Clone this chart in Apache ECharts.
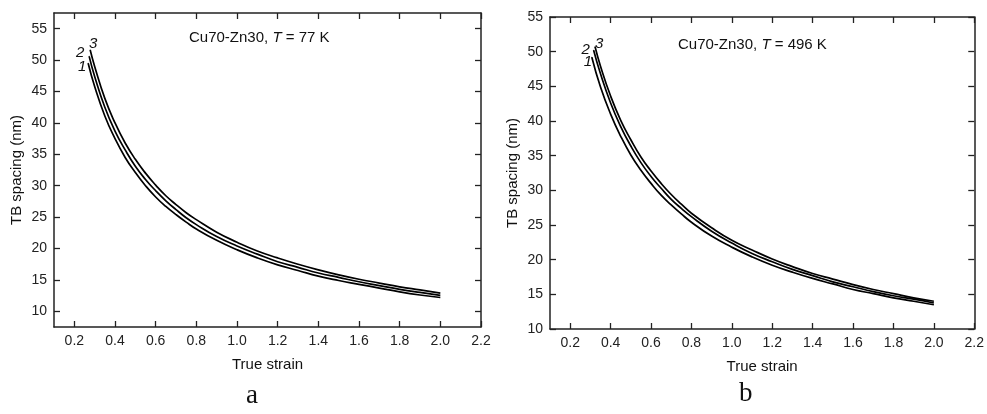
<!DOCTYPE html>
<html><head><meta charset="utf-8">
<script src="https://cdn.jsdelivr.net/npm/echarts@6/dist/echarts.min.js"></script>
<style>html,body{margin:0;padding:0;background:#fff}#c{width:987px;height:414px}</style>
</head><body><div id="c"></div>
<script>
// ---- tick labels ----
const xTicks = [0.2,0.4,0.6,0.8,1.0,1.2,1.4,1.6,1.8,2.0,2.2];
const yTicks = [10,15,20,25,30,35,40,45,50,55];

// ---- common strain grid (after the first point of each curve) ----
const strainGrid = [0.35,0.4,0.45,0.5,0.55,0.6,0.65,0.7,0.75,0.8,0.9,1.0,1.1,1.2,1.3,1.4,1.5,1.6,1.7,1.8,1.9,2.0];

// ---- panel a: T = 77 K ----
const aStrain1 = [0.268,0.3].concat(strainGrid);
const aTB1 = [49.5,45.8,41.1,37.5,34.5,32.1,30.0,28.2,26.7,25.4,24.2,23.1,21.3,19.8,18.5,17.4,16.5,15.6,14.9,14.3,13.7,13.1,12.6,12.2];
const aStrain2 = [0.273,0.3].concat(strainGrid);
const aTB2 = [50.6,47.4,42.5,38.7,35.7,33.1,31.0,29.2,27.6,26.2,24.9,23.8,21.9,20.4,19.1,17.9,17.0,16.1,15.4,14.7,14.1,13.5,13.0,12.55];
const aStrain3 = [0.278,0.3].concat(strainGrid);
const aTB3 = [51.6,49.0,43.9,40.0,36.8,34.2,32.0,30.1,28.4,27.0,25.7,24.6,22.6,21.0,19.6,18.5,17.5,16.6,15.8,15.1,14.5,13.9,13.4,12.9];

// ---- panel b: T = 496 K ----
const bStrain1 = [0.307].concat(strainGrid);
const bTB1 = [49.2,44.9,41.0,37.8,35.1,32.9,31.0,29.3,27.9,26.6,25.4,23.4,21.8,20.4,19.2,18.2,17.3,16.5,15.7,15.1,14.5,14.0,13.5];
const bStrain2 = [0.316].concat(strainGrid);
const bTB2 = [50.2,46.8,42.6,39.2,36.4,34.0,32.0,30.3,28.7,27.4,26.2,24.1,22.4,20.9,19.7,18.6,17.7,16.8,16.1,15.4,14.8,14.3,13.75];
const bStrain3 = [0.323].concat(strainGrid);
const bTB3 = [50.7,47.9,43.6,40.1,37.3,34.8,32.8,31.0,29.4,28.0,26.7,24.6,22.8,21.4,20.1,19.0,18.0,17.2,16.4,15.7,15.1,14.5,14.0];

const curveNames = ['1','2','3'];
const titleA = ['Cu70-Zn30, ','T',' = 77 K'];
const titleB = ['Cu70-Zn30, ','T',' = 496 K'];

const FONT = 'Liberation Sans, Arial, sans-serif';
const AX = '#222';

function xAxes(g){
  const base = {
    type:'value', gridIndex:g, min:0.1, max:2.2,
    axisLine:{show:true, onZero:false, lineStyle:{color:AX, width:1.5}},
    axisTick:{show:true, inside:true, length:6, customValues:xTicks, lineStyle:{color:AX, width:1.3}},
    splitLine:{show:false}
  };
  return [
    Object.assign({}, base, {position:'bottom',
      axisLabel:{customValues:xTicks, formatter:v=>v.toFixed(1), color:AX, fontSize:14, fontFamily:FONT, margin:7},
      name:'True strain', nameLocation:'middle', nameGap:30,
      nameTextStyle:{color:'#111', fontSize:15, fontFamily:FONT}}),
    Object.assign({}, base, {position:'top', axisLabel:{show:false}})
  ];
}
function yAxes(g, mn, mx){
  const base = {
    type:'value', gridIndex:g, min:mn, max:mx,
    axisLine:{show:true, onZero:false, lineStyle:{color:AX, width:1.5}},
    axisTick:{show:true, inside:true, length:6, customValues:yTicks, lineStyle:{color:AX, width:1.3}},
    splitLine:{show:false}
  };
  return [
    Object.assign({}, base, {position:'left',
      axisLabel:{customValues:yTicks, color:AX, fontSize:14, fontFamily:FONT, margin:7},
      name:'TB spacing (nm)', nameLocation:'middle', nameGap:30, nameRotate:90,
      nameTextStyle:{color:'#111', fontSize:15, fontFamily:FONT}}),
    Object.assign({}, base, {position:'right', axisLabel:{show:false}})
  ];
}

function curve(xs, ys, name, axIdx, offset){
  const data = xs.map((x,i)=>[x, ys[i]]);
  data[0] = {value:data[0], label:{show:true, formatter:name, position:'inside', offset:offset,
    fontStyle:'italic', fontSize:15, color:'#111', fontFamily:FONT}};
  return {
    type:'line', name:name, xAxisIndex:axIdx, yAxisIndex:axIdx,
    data:data, smooth:0.5,
    symbol:'circle', symbolSize:(v,p)=> p.dataIndex===0 ? 1 : 0, itemStyle:{color:'#000'},
    lineStyle:{color:'#000', width:1.7},
    label:{show:false}, emphasis:{disabled:true}, z:3
  };
}

function titleText(parts, left, top){
  return {type:'text', left:left, top:top, style:{
    text:'{n|'+parts[0]+'}{i|'+parts[1]+'}{n|'+parts[2]+'}',
    rich:{n:{fontSize:15, fontFamily:FONT, fill:'#111'}, i:{fontSize:15, fontFamily:FONT, fontStyle:'italic', fill:'#111'}}
  }};
}

const chart = echarts.init(document.getElementById('c'), null, {renderer:'canvas'});
const series = [
  curve(aStrain1, aTB1, curveNames[0], 0, [-6,4]),
  curve(aStrain2, aTB2, curveNames[1], 0, [-9,-4]),
  curve(aStrain3, aTB3, curveNames[2], 0, [3,-6]),
  curve(bStrain1, bTB1, curveNames[0], 2, [-4,5]),
  curve(bStrain2, bTB2, curveNames[1], 2, [-8,0]),
  curve(bStrain3, bTB3, curveNames[2], 2, [4,-3])
];
chart.setOption({
  animation:false,
  backgroundColor:'#fff',
  grid:[
    {left:54, top:13, width:427, height:314},
    {left:550, top:17, width:426, height:312}
  ],
  xAxis: xAxes(0).concat(xAxes(1)),
  yAxis: yAxes(0, 7.5, 57.5).concat(yAxes(1, 10, 55)),
  series: series,
  graphic:[
    titleText(titleA, 189, 30),
    titleText(titleB, 678, 37),
    {type:'text', left:246, top:382, style:{text:'a', fontSize:27, fontFamily:'Liberation Serif, Times New Roman, serif', fill:'#111'}},
    {type:'text', left:739, top:380, style:{text:'b', fontSize:27, fontFamily:'Liberation Serif, Times New Roman, serif', fill:'#111'}}
  ]
});
</script>
</body></html>
